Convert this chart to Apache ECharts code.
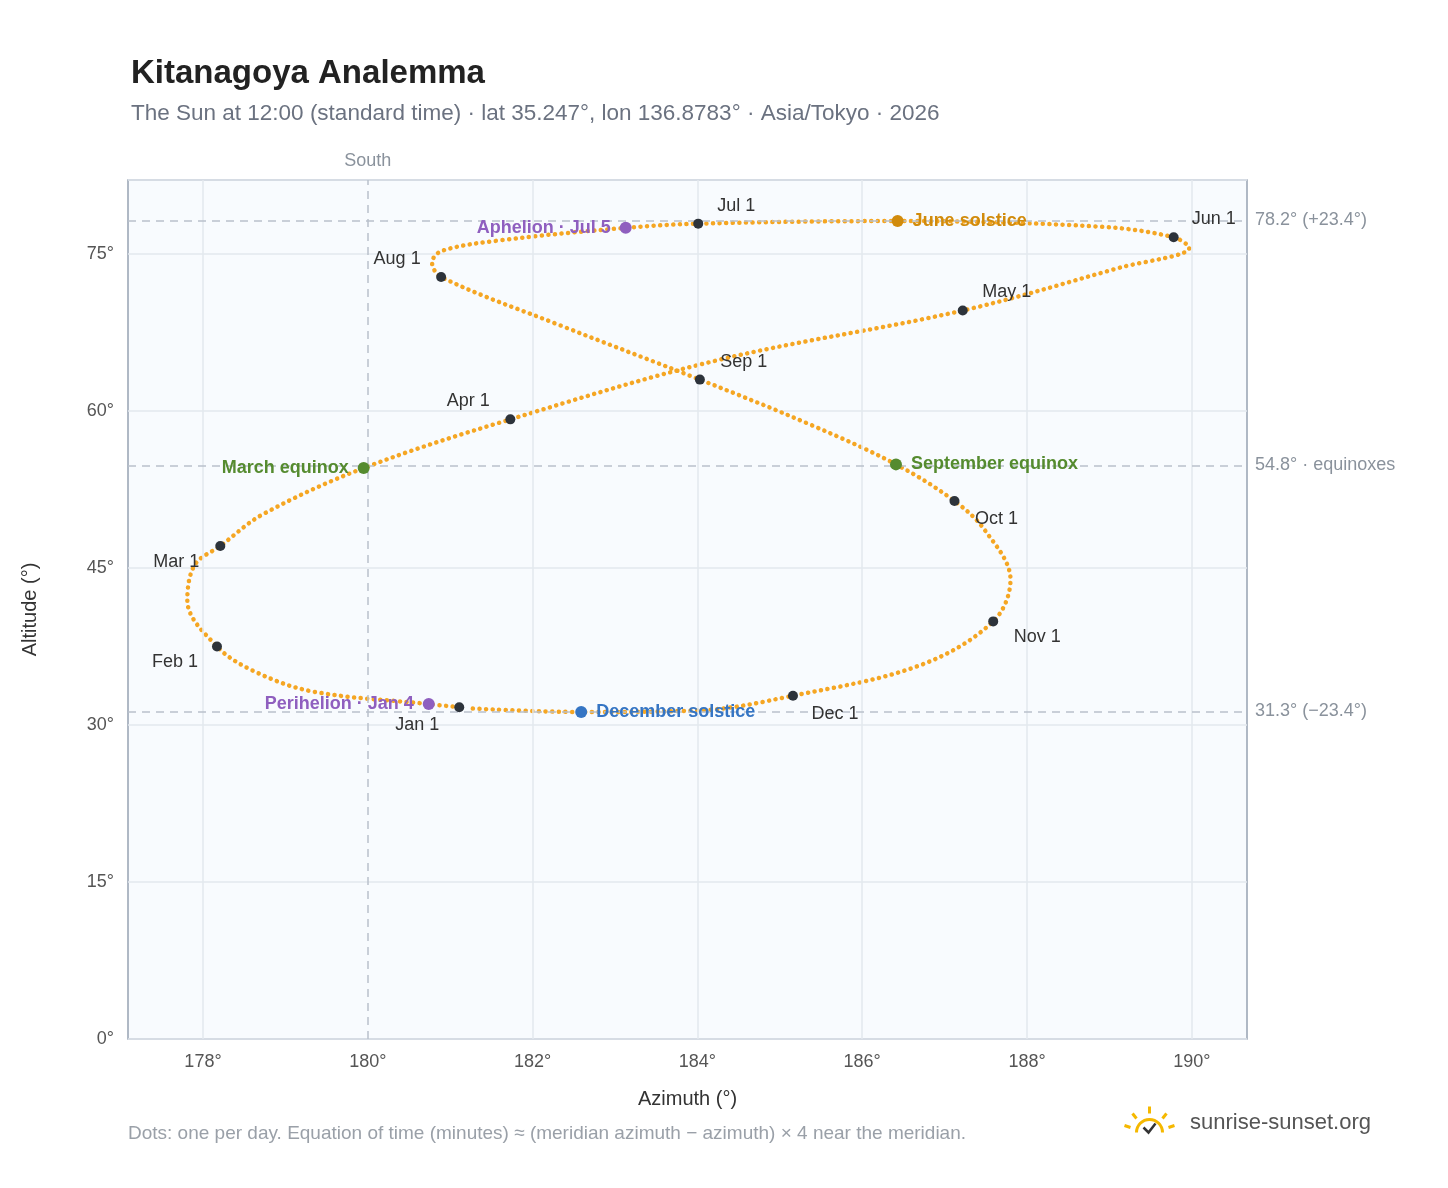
<!DOCTYPE html>
<html><head><meta charset="utf-8">
<script src="https://cdn.jsdelivr.net/npm/echarts@6/dist/echarts.min.js"></script>
<style>html,body{margin:0;background:#fff}#c{width:1448px;height:1188px}</style>
</head><body><div id="c"></div>
<script>
// path of the Sun through the year (azimuth, altitude)
const pathAz  = [181.11,180.74,179.33,178.63,178.17,177.81,177.90,178.21,178.72,179.95,181.73,184.27,187.22,189.13,189.97,189.78,188.91,186.43,184.01,183.13,181.60,180.90,180.78,180.89,182.33,184.03,185.37,186.41,187.12,187.49,187.80,187.59,186.70,185.16,184.03,182.59,181.20];
const pathAlt = [31.7,32.0,33.2,35.1,37.5,41.9,45.3,47.1,50.1,54.55,59.2,64.9,69.6,73.7,75.6,76.6,77.6,78.15,77.9,77.5,76.3,75.3,74.2,72.8,68.2,63.0,58.7,54.9,51.4,48.6,43.9,39.9,35.7,32.8,31.4,31.24,31.6];

const months = ["Jan 1","Feb 1","Mar 1","Apr 1","May 1","Jun 1","Jul 1","Aug 1","Sep 1","Oct 1","Nov 1","Dec 1"];
const monthAz  = [181.11,178.17,178.21,181.73,187.22,189.78,184.01,180.89,184.03,187.12,187.59,185.16];
const monthAlt = [31.7,37.5,47.1,59.2,69.6,76.6,77.9,72.8,63.0,51.4,39.9,32.8];
const monthOff = [[-42,18],[-42,16],[-44,16],[-42,-18],[44,-18],[40,-18],[38,-18],[-44,-18],[44,-18],[42,18],[44,16],[42,18]];

const events = ["March equinox","June solstice","September equinox","December solstice","Perihelion · Jan 4","Aphelion · Jul 5"];
const eventAz  = [179.95,186.43,186.41,182.59,180.74,183.13];
const eventAlt = [54.55,78.15,54.9,31.24,32.0,77.5];
const eventColor = ["#558b2f","#d18b0c","#558b2f","#3575c4","#8f5fbf","#8f5fbf"];
const eventPos = ["left","right","right","right","left","left"];

const refAlt = [78.2, 54.8, 31.3];
const refLabel = ["78.2° (+23.4°)","54.8° · equinoxes","31.3° (−23.4°)"];
const xTicks = [178,180,182,184,186,188,190];

const chart = echarts.init(document.getElementById("c"));
const dash = {color:"#b9c1cb", type:[8,6], width:1.5};
const grid = {color:"#e3e8ee", type:"solid", width:1.5};
chart.setOption({
  animation:false,
  textStyle:{fontFamily:"Liberation Sans, Arial"},
  title:{left:126, top:52, text:"Kitanagoya Analemma",
    subtext:"The Sun at 12:00 (standard time) · lat 35.247°, lon 136.8783° · Asia/Tokyo · 2026",
    textStyle:{fontSize:33, fontWeight:"bold", color:"#222"},
    subtextStyle:{fontSize:22.5, color:"#6b7280"}, itemGap:12},
  grid:{left:128, top:180, right:201, bottom:149, show:true, backgroundColor:"#f8fbfe", borderColor:"#97a3b3", borderWidth:1.5},
  xAxis:{type:"value", min:177.09, max:190.67, name:"Azimuth (°)", nameLocation:"middle", nameGap:50,
    nameTextStyle:{fontSize:20, color:"#333"},
    axisLine:{show:false}, axisTick:{show:false},
    axisLabel:{customValues:xTicks, formatter:v=>v+"°", fontSize:18, color:"#555", margin:14},
    splitLine:{show:false}},
  yAxis:{type:"value", min:0, max:82.07, interval:15, name:"Altitude (°)", nameLocation:"middle", nameGap:88,
    nameTextStyle:{fontSize:20, color:"#333"},
    axisLine:{show:false}, axisTick:{show:false},
    axisLabel:{formatter:v=>v+"°", fontSize:18, color:"#555", margin:14, showMaxLabel:false},
    splitLine:{lineStyle:{color:"#e3e8ee", width:1.5}}},
  series:[
    {type:"line", data:[], z:1,
      markLine:{silent:true, symbol:"none", lineStyle:grid, label:{show:false},
        data:xTicks.filter(v=>v!==180).map(v=>({xAxis:v}))}},
    {type:"line", data:pathAz.map((a,i)=>[a,pathAlt[i]]), smooth:0.35, symbol:"none",
      lineStyle:{color:"#f5a623", width:4.5, type:[0.1,6.5], cap:"round"}, z:3,
      markLine:{silent:true, symbol:"none", lineStyle:dash,
        label:{position:"end", color:"#8a929c", fontSize:18, distance:8},
        data:refAlt.map((v,i)=>({yAxis:v, label:{formatter:refLabel[i]}}))
          .concat([{xAxis:180, label:{formatter:"South", position:"end", distance:10}}])}},
    {type:"scatter", symbolSize:10, itemStyle:{color:"#2d333b", opacity:1}, z:5,
      data:months.map((m,i)=>({value:[monthAz[i],monthAlt[i]],
        label:{show:true, formatter:m, position:"inside", offset:monthOff[i], color:"#333", fontSize:18}}))},
    {type:"scatter", symbolSize:12, z:6,
      data:events.map((e,i)=>({value:[eventAz[i],eventAlt[i]], itemStyle:{color:eventColor[i], opacity:1},
        label:{show:true, formatter:e, position:eventPos[i], color:eventColor[i], opacity:1, fontSize:18, fontWeight:"bold", distance:9}}))}
  ],
  graphic:[
    {type:"text", left:128, top:1124, style:{text:"Dots: one per day. Equation of time (minutes) ≈ (meridian azimuth − azimuth) × 4 near the meridian.", fill:"#9aa0a8", fontSize:19}},
    {type:"text", left:1190, top:1112, style:{text:"sunrise-sunset.org", fill:"#555", fontSize:22}},
    {type:"group", left:1122, top:1104, children:[
      {type:"arc", shape:{cx:25, cy:26, r:13, startAngle:Math.PI, endAngle:2*Math.PI}, style:{stroke:"#f5b800", lineWidth:3, fill:null}},
      {type:"polyline", shape:{points:[[19,21],[24,26],[31,17]]}, style:{stroke:"#333", lineWidth:2.5, fill:null}},
      {type:"line", shape:{x1:25,y1:0,x2:25,y2:7}, style:{stroke:"#f5b800", lineWidth:3}},
      {type:"line", shape:{x1:8,y1:7,x2:12,y2:12}, style:{stroke:"#f5b800", lineWidth:3}},
      {type:"line", shape:{x1:42,y1:7,x2:38,y2:12}, style:{stroke:"#f5b800", lineWidth:3}},
      {type:"line", shape:{x1:0,y1:19,x2:6,y2:21}, style:{stroke:"#f5b800", lineWidth:3}},
      {type:"line", shape:{x1:50,y1:19,x2:44,y2:21}, style:{stroke:"#f5b800", lineWidth:3}}
    ]}
  ]
});
</script></body></html>
